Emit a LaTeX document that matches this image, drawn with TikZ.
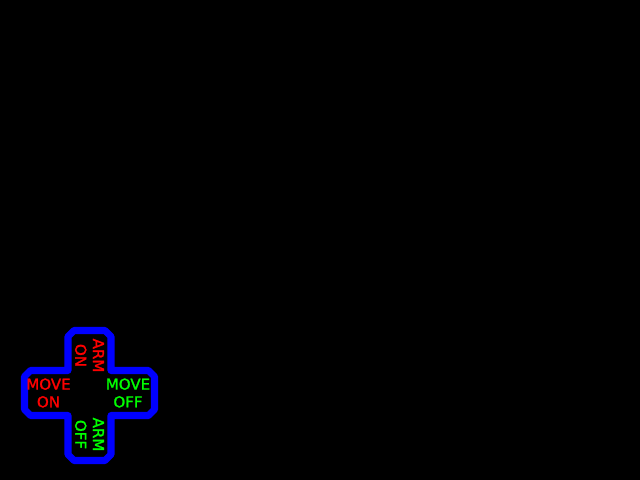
\documentclass[tikz,border=0pt]{standalone}
\usepackage{fontspec}
\setmainfont{DejaVu Sans}
\newfontfamily\padfont[FakeBold=1.5]{DejaVu Sans}
\usepackage{tikz}

\begin{document}
\begin{tikzpicture}[x=0.025cm,y=-0.025cm,
                   pad/.style={draw=blue,line width=5pt,line join=round},
                   lbl/.style={inner sep=0pt,align=center,font=\padfont\fontsize{10.7}{12.6}\selectfont},
                   onlbl/.style={lbl,text=red},
                   offlbl/.style={lbl,text=green}]
\fill[black] (0,0) rectangle (640,480);
\useasboundingbox (0,0) rectangle (640,480);
\draw[pad] (68,336.5) -- (74,330.5) -- (105,330.5) -- (111,336.5) -- (111,370.5) -- (148.5,370.5) -- (154.5,376.5)
  -- (154.5,409.5) -- (148.5,415.5) -- (111,415.5) -- (111,454.5) -- (105,460.5) -- (74,460.5) -- (68,454.5)
  -- (68,415.5) -- (30.5,415.5) -- (24.5,409.5) -- (24.5,376.5) -- (30.5,370.5) -- (68,370.5) -- cycle;
\node[onlbl] (moveon) at (48.5,393) {MOVE\\ON};
\node[offlbl] (moveoff) at (128,393) {MOVE\\OFF};
\node[onlbl,rotate=-90] (armon) at (89.5,355.5) {ARM\\ON};
\node[offlbl,rotate=-90] (armoff) at (89.5,434.5) {ARM\\OFF};
\end{tikzpicture}
\end{document}
